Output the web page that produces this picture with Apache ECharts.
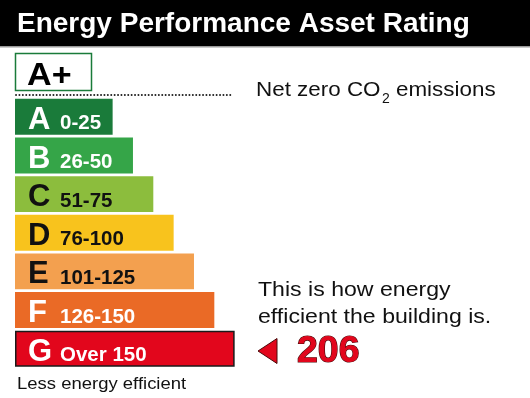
<!DOCTYPE html>
<html>
<head>
<meta charset="utf-8">
<script src="https://cdn.jsdelivr.net/npm/echarts@6/dist/echarts.min.js"></script>
<style>
html,body{margin:0;padding:0;background:#fff;}
#chart{width:530px;height:398px;}
</style>
</head>
<body>
<div id="chart"></div>
<script>
const titleText = 'Energy Performance Asset Rating';
const topRating = 'A+';
const ratings = ['A', 'B', 'C', 'D', 'E', 'F', 'G'];
const ranges = ['0-25', '26-50', '51-75', '76-100', '101-125', '126-150', 'Over 150'];
const upperBounds = [25, 50, 75, 100, 125, 150, 175];
const barColors = ['#1a7b3a', '#35a548', '#8cbd3d', '#f8c31d', '#f3a04f', '#ea6a26', '#e2061c'];
const letterColors = ['#fff', '#fff', '#111', '#111', '#111', '#fff', '#fff'];
const buildingScore = 206;
const bottomNote = 'Less energy efficient';
const pointerNote = ['This is how energy', 'efficient the building is.'];

// the scale starts below zero so that every band has room for its label
const axisStart = -95;
const axisEnd = 200;

const FONT = '"Liberation Sans", Arial, sans-serif';

const chart = echarts.init(document.getElementById('chart'), null, {renderer: 'canvas'});

const data = upperBounds.map((v, i) => ({
  value: v - axisStart,
  itemStyle: {
    color: barColors[i],
    borderColor: i === 6 ? '#1a1a1a' : barColors[i],
    borderWidth: i === 6 ? 1.5 : 0
  },
  label: {
    rich: {
      l: {fontSize: 31, fontWeight: 'bold', color: letterColors[i], fontFamily: FONT, width: 32, lineHeight: 38, verticalAlign: 'bottom'},
      r: {fontSize: 20.5, fontWeight: 'bold', color: letterColors[i], fontFamily: FONT, lineHeight: 38, verticalAlign: 'bottom', padding: [0, 0, 1.6, 0]}
    }
  }
}));

const option = {
  animation: false,
  backgroundColor: '#fff',
  grid: {left: 15, right: 275, top: 97.5, bottom: 30, containLabel: false},
  xAxis: {type: 'value', min: 0, max: axisEnd - axisStart, show: false},
  yAxis: {type: 'category', data: ratings, inverse: true, show: false},
  series: [{
    type: 'bar',
    data: data,
    barCategoryGap: '7%',
    label: {
      show: true,
      position: 'insideLeft',
      distance: 13,
      formatter: (p) => '{l|' + ratings[p.dataIndex] + '}{r|' + ranges[p.dataIndex] + '}'
    }
  }],
  graphic: [
    {type: 'rect', left: 0, top: 0, shape: {width: 530, height: 46}, style: {fill: '#000'}},
    {type: 'rect', left: 0, top: 46, shape: {width: 530, height: 1.5}, style: {fill: '#9a9a9a'}},
    {type: 'text', x: 17, y: 10, style: {text: titleText, fill: '#fff', font: 'bold 28px ' + FONT}},
    {type: 'rect', shape: {x: 15.5, y: 53.5, width: 76, height: 37}, style: {fill: '#fff', stroke: '#1a7b3a', lineWidth: 1.5}},
    {type: 'text', x: 27, y: 61, scaleX: 1.1, style: {text: topRating, fill: '#000', font: 'bold 31px ' + FONT}},
    {type: 'line', shape: {x1: 16, y1: 95, x2: 233, y2: 95}, style: {stroke: '#222', lineWidth: 1.9, lineDash: [0.1, 3.3], lineCap: 'round'}},
    {type: 'text', x: 256, y: 80, scaleX: 1.12, style: {text: 'Net zero CO', fill: '#111', font: '20px ' + FONT}},
    {type: 'text', x: 382, y: 92, style: {text: '2', fill: '#111', font: '14px ' + FONT}},
    {type: 'text', x: 396, y: 80, scaleX: 1.12, style: {text: 'emissions', fill: '#111', font: '20px ' + FONT}},
    {type: 'text', x: 258, y: 280, scaleX: 1.1, style: {text: pointerNote[0], fill: '#111', font: '21px ' + FONT}},
    {type: 'text', x: 258, y: 307, scaleX: 1.1, style: {text: pointerNote[1], fill: '#111', font: '21px ' + FONT}},
    {type: 'polygon', shape: {points: [[258, 351], [277, 338.5], [277, 363.5]]}, style: {fill: '#e2061c', stroke: '#4a0a0a', lineWidth: 1}},
    {type: 'text', x: 297, y: 334, scaleX: 1.04, style: {text: String(buildingScore), fill: '#e2061c', stroke: '#4a0a0a', lineWidth: 1.2, font: 'bold 36px ' + FONT}},
    {type: 'text', x: 17, y: 376, scaleX: 1.12, style: {text: bottomNote, fill: '#111', font: '16.5px ' + FONT}}
  ]
};
chart.setOption(option);
</script>
</body>
</html>
